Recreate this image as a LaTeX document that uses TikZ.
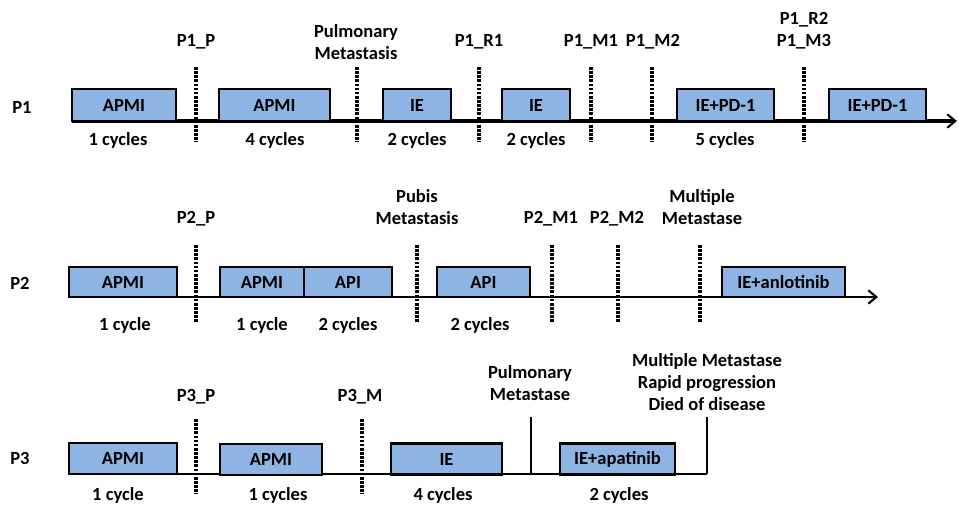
\documentclass[tikz,border=0pt]{standalone}
\usepackage{fontspec}
\setmainfont{Carlito}
\usetikzlibrary{arrows.meta}
\definecolor{boxblue}{HTML}{8DB4E2}
\begin{document}
\begin{tikzpicture}[x=0.75pt,y=-0.75pt,
  txt/.style={font=\bfseries\fontsize{13.9}{16.5}\selectfont,inner sep=0pt,align=center},
  tbox/.style={draw=black,fill=boxblue,line width=1.8pt,inner sep=0pt,
    font=\bfseries\fontsize{13.9}{16.5}\selectfont},
  bw/.style={minimum width=#1*0.75pt},
  bh/.style={minimum height=#1*0.75pt},
  axis/.style={line width=1.7pt},
  axisarrow/.style={line width=#1,-{Straight Barb[length=6pt,width=10pt,line width=1.6pt]}},
  dotline/.style={line width=2.3pt,dash pattern=on 2pt off 1.1pt},
  solidline/.style={line width=1.7pt}]
\useasboundingbox (0,0) rectangle (959,505);

% ---------------- P1 ----------------
\node[txt] (lp1) at (22,107) {P1};
\coordinate (p1s) at (72,121);
\coordinate (p1e) at (957,121);
\draw[axisarrow=2.3pt] (p1s) -- (p1e);
\foreach \x [count=\i] in {196,357,479,591,652,804}{
  \coordinate (p1t\i) at (\x,67);
  \coordinate (p1b\i) at (\x,142);
  \draw[dotline] (p1t\i) -- (p1b\i);
}
\node[tbox,bw=104,bh=32] (a1) at (124,105) {APMI};
\node[tbox,bw=111,bh=32] (a2) at (274.5,105) {APMI};
\node[tbox,bw=68,bh=32] (a3) at (417,105) {IE};
\node[tbox,bw=68,bh=32] (a4) at (536,105) {IE};
\node[tbox,bw=97,bh=32] (a5) at (725.5,105) {IE+PD-1};
\node[tbox,bw=97,bh=32] (a6) at (877.5,105) {IE+PD-1};

\node[txt] (t11) at (196,42) {P1\_P};
\node[txt] (t12) at (356,42) {Pulmonary\\Metastasis};
\node[txt] (t13) at (479,42) {P1\_R1};
\node[txt] (t14) at (591,42) {P1\_M1};
\node[txt] (t15) at (653,42) {P1\_M2};
\node[txt] (t16) at (804,30.5) {P1\_R2\\P1\_M3};

\node[txt] (c11) at (118,140) {1 cycles};
\node[txt] (c12) at (275,140) {4 cycles};
\node[txt] (c13) at (417,140) {2 cycles};
\node[txt] (c14) at (536,140) {2 cycles};
\node[txt] (c15) at (725,140) {5 cycles};

% ---------------- P2 ----------------
\node[txt] (lp2) at (20,283) {P2};
\coordinate (p2s) at (69,297);
\coordinate (p2e) at (878,297);
\draw[axisarrow=1.7pt] (p2s) -- (p2e);
\foreach \x [count=\i] in {196,417,552,618,700}{
  \coordinate (p2t\i) at (\x,245);
  \coordinate (p2b\i) at (\x,322);
  \draw[dotline] (p2t\i) -- (p2b\i);
}
\node[tbox,bw=108,bh=30] (b1) at (123,282) {APMI};
\node[tbox,bw=84,bh=30] (b2) at (262,282) {APMI};
\node[tbox,bw=88,bh=30] (b3) at (348,282) {API};
\node[tbox,bw=93,bh=30] (b4) at (483.5,282) {API};
\node[tbox,bw=123,bh=30] (b5) at (783.5,282) {IE+anlotinib};

\node[txt] (t21) at (196,219) {P2\_P};
\node[txt] (t22) at (417,207.5) {Pubis\\Metastasis};
\node[txt] (t23) at (551,219) {P2\_M1};
\node[txt] (t24) at (617,219) {P2\_M2};
\node[txt] (t25) at (702,207.5) {Multiple\\Metastase};

\node[txt] (c21) at (125,325) {1 cycle};
\node[txt] (c22) at (262,325) {1 cycle};
\node[txt] (c23) at (348,325) {2 cycles};
\node[txt] (c24) at (480,325) {2 cycles};

% ---------------- P3 ----------------
\node[txt] (lp3) at (20,458) {P3};
\coordinate (p3s) at (69,474);
\coordinate (p3e) at (707,474);
\coordinate (p3v1t) at (531,417);
\coordinate (p3v1b) at (531,474);
\coordinate (p3v2t) at (707,417);
\draw[axis] (p3s) -- (p3e);
\draw[solidline] (p3v1t) -- (p3v1b);
\draw[solidline] (p3v2t) -- (p3e);
\foreach \x [count=\i] in {196,362}{
  \coordinate (p3t\i) at (\x,419);
  \coordinate (p3b\i) at (\x,494);
  \draw[dotline] (p3t\i) -- (p3b\i);
}
\node[tbox,bw=108,bh=31] (d1) at (123,458.5) {APMI};
\node[tbox,bw=102,bh=31] (d2) at (271,459.5) {APMI};
\node[tbox,bw=111,bh=31] (d3) at (446.5,459) {IE};
\node[tbox,bw=115,bh=31] (d4) at (617.5,459) {IE+apatinib};

\node[txt] (t31) at (196,397) {P3\_P};
\node[txt] (t32) at (360,397) {P3\_M};
\node[txt] (t33) at (530,383) {Pulmonary\\Metastase};
\node[txt] (t34) at (707,382.5) {Multiple Metastase\\Rapid progression\\Died of disease};

\node[txt] (c31) at (118,495) {1 cycle};
\node[txt] (c32) at (278,495) {1 cycles};
\node[txt] (c33) at (443,495) {4 cycles};
\node[txt] (c34) at (619,495) {2 cycles};
\end{tikzpicture}
\end{document}
